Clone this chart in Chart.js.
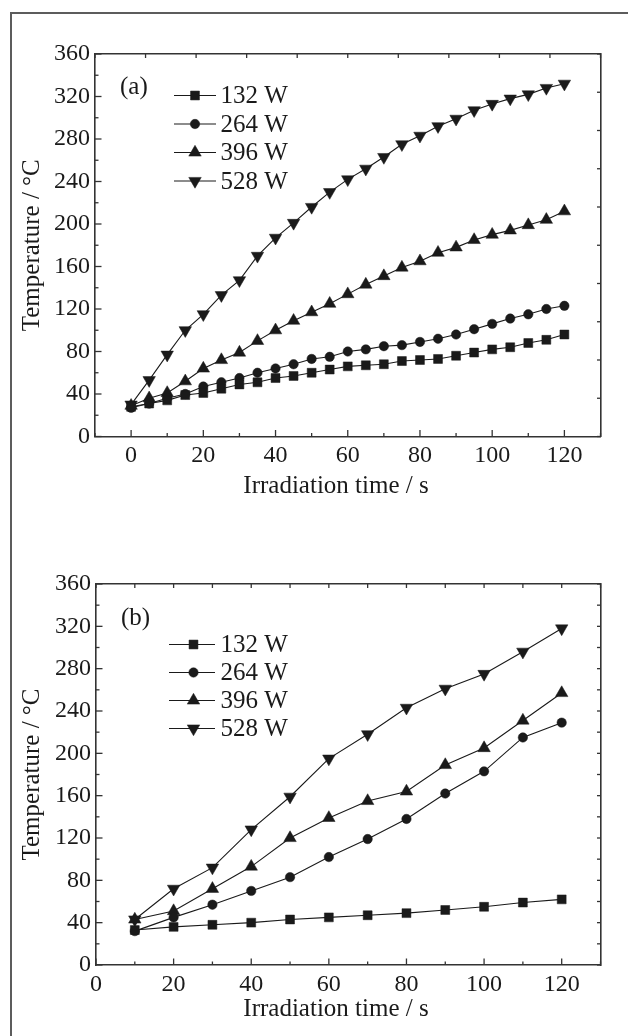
<!DOCTYPE html>
<html><head><meta charset="utf-8">
<script src="https://cdn.jsdelivr.net/npm/chart.js@4.4.1/dist/chart.umd.min.js"></script>
<style>
html,body{margin:0;padding:0;background:#fff;}
body{width:628px;height:1036px;position:relative;overflow:hidden;}
#frame{position:absolute;left:10px;top:12px;width:700px;height:1100px;border-left:2px solid #5c5c5c;border-top:2px solid #5c5c5c;}
.wrap{position:absolute;left:0;width:628px;height:518px;}
canvas{display:block;}
</style></head><body>
<div id="frame"></div>
<div class="wrap" style="top:0"><canvas id="ca" width="628" height="518"></canvas></div>
<div class="wrap" style="top:518px"><canvas id="cb" width="628" height="518"></canvas></div>
<script>
// ---------- data ----------
const seriesLabels = ['132 W', '264 W', '396 W', '528 W'];

// panel (a)
const timeA = [0,5,10,15,20,25,30,35,40,45,50,55,60,65,70,75,80,85,90,95,100,105,110,115,120];
const a132 = [28,31,34,39,41,45,49,51,55,57,60,63,66,67,68,71,72,73,76,79,82,84,88,91,96];
const a264 = [27,31,36,40,47,51,55,60,64,68,73,75,80,82,85,86,89,92,96,101,106,111,115,120,123];
const a396 = [29,36,41,52,64,72,79,90,100,109,117,125,134,143,151,159,165,173,178,185,190,194,199,204,212];
const a528 = [30,53,77,100,115,133,147,170,187,201,216,230,242,252,263,275,283,292,299,307,313,318,322,328,332];

// panel (b)
const timeB = [10,20,30,40,50,60,70,80,90,100,110,120];
const b132 = [33,36,38,40,43,45,47,49,52,55,59,62];
const b264 = [32,45,57,70,83,102,119,138,162,183,215,229];
const b396 = [43,51,72,93,120,139,155,164,189,205,231,257];
const b528 = [43,72,92,128,159,195,218,243,261,275,296,318];

// tick labels
const yTickLabels = [0,40,80,120,160,200,240,280,320,360];
const xTickLabels = [0,20,40,60,80,100,120];

const FONT = "'Liberation Serif','Times New Roman',serif";
const INK = '#1a1a1a';
const AXIS = '#333333';

const markerStyles = [
  {pointStyle:'rect', radius:6.3, rotation:0},
  {pointStyle:'circle', radius:4.7, rotation:0},
  {pointStyle:'triangle', radius:7.2, rotation:0},
  {pointStyle:'triangle', radius:7.2, rotation:180}
];

function pts(xs, ys){ return xs.map((x,i)=>({x:x, y:ys[i]})); }

function makeDatasets(xs, list){
  return list.map((ys,i)=>({
    label: seriesLabels[i],
    data: pts(xs, ys),
    borderColor: INK,
    backgroundColor: INK,
    borderWidth: 1.1,
    pointStyle: markerStyles[i].pointStyle,
    pointRotation: markerStyles[i].rotation,
    pointRadius: markerStyles[i].radius,
    pointHoverRadius: markerStyles[i].radius,
    pointBackgroundColor: INK,
    pointBorderColor: INK,
    pointBorderWidth: 0.5,
    tension: 0,
    fill: false,
    xAxisID: 'x',
    yAxisID: 'y'
  }));
}

function drawMarker(ctx, st, x, y){
  ctx.fillStyle = INK; ctx.strokeStyle = INK; ctx.lineWidth = 0.5;
  if (Chart.helpers && Chart.helpers.drawPoint) {
    Chart.helpers.drawPoint(ctx, {pointStyle: st.pointStyle, radius: st.radius, rotation: st.rotation, borderWidth: 0.5}, x, y);
    return;
  }
  const r = st.radius;
  ctx.beginPath();
  if (st.pointStyle === 'rect') { const s = r*Math.SQRT1_2; ctx.rect(x-s, y-s, 2*s, 2*s); }
  else if (st.pointStyle === 'circle') { ctx.arc(x, y, r, 0, Math.PI*2); }
  else { const d = st.rotation ? -1 : 1; ctx.moveTo(x, y - d*r); ctx.lineTo(x + 0.866*r, y + d*r/2); ctx.lineTo(x - 0.866*r, y + d*r/2); ctx.closePath(); }
  ctx.fill(); ctx.stroke();
}

function buildChart(id, cfg){
  const tickPlugin = {
    id: 'innerTicks',
    afterDraw(chart){
      const ctx = chart.ctx, a = chart.chartArea;
      ctx.save();
      ctx.strokeStyle = AXIS; ctx.lineWidth = 1.3;
      const specs = [
        {s: chart.scales.x, side: 'bottom', major: v => v % 20 === 0, ml: 6.5, nl: 3.5},
        {s: chart.scales.y, side: 'left', major: v => v % 40 === 0, ml: 6.5, nl: 3.5},
        {s: chart.scales.xTop, side: 'top', major: () => true, ml: 4, nl: 4},
        {s: chart.scales.yRight, side: 'right', major: () => true, ml: 3.5, nl: 3}
      ];
      for (const sp of specs){
        for (const t of sp.s.ticks){
          const p = sp.s.getPixelForValue(t.value);
          const len = sp.major(t.value) ? sp.ml : sp.nl;
          ctx.beginPath();
          if (sp.side === 'bottom'){ ctx.moveTo(p, a.bottom); ctx.lineTo(p, a.bottom - len); }
          else if (sp.side === 'top'){ ctx.moveTo(p, a.top); ctx.lineTo(p, a.top + len); }
          else if (sp.side === 'left'){ ctx.moveTo(a.left, p); ctx.lineTo(a.left + len, p); }
          else { ctx.moveTo(a.right, p); ctx.lineTo(a.right - len, p); }
          ctx.stroke();
        }
      }
      ctx.fillStyle = INK;
      ctx.textBaseline = 'middle';
      // x-axis title
      ctx.textAlign = 'center';
      ctx.font = '25px ' + FONT;
      ctx.fillText('Irradiation time / s', a.left + cfg.xTitle[0], a.bottom + cfg.xTitle[1]);
      // panel label
      ctx.textAlign = 'left';
      ctx.font = '25px ' + FONT;
      ctx.fillText(cfg.panelLabel, a.left + cfg.panelPos[0], a.top + cfg.panelPos[1]);
      // legend
      const L = cfg.legend;
      chart.data.datasets.forEach((ds, i) => {
        const y = a.top + L.y0 + i * L.dy;
        ctx.strokeStyle = INK; ctx.lineWidth = 1.1;
        ctx.beginPath(); ctx.moveTo(a.left + L.x1, y); ctx.lineTo(a.left + L.x2, y); ctx.stroke();
        drawMarker(ctx, markerStyles[i], a.left + L.xm, y);
        ctx.fillStyle = INK;
        ctx.font = '25px ' + FONT;
        ctx.textBaseline = 'middle'; ctx.textAlign = 'left';
        ctx.fillText(ds.label, a.left + L.xt, y + 1);
      });
      ctx.restore();
    }
  };

  return new Chart(document.getElementById(id), {
    type: 'line',
    data: { datasets: makeDatasets(cfg.xs, cfg.series) },
    plugins: [tickPlugin],
    options: {
      responsive: false,
      animation: false,
      devicePixelRatio: 1,
      layout: { padding: cfg.pad },
      plugins: { legend: {display:false}, tooltip: {enabled:false} },
      scales: {
        x: {
          type: 'linear', position: 'bottom', min: cfg.xMin, max: 130,
          afterFit(s){ s.height = cfg.xH; },
          ticks: { stepSize: 10, autoSkip: false, maxRotation: 0, padding: cfg.xTickPad, color: INK,
                   font: {family: FONT, size: 24},
                   callback: v => xTickLabels.includes(v) ? String(v) : '' },
          grid: { drawOnChartArea: false, drawTicks: false },
          border: { display: true, color: AXIS, width: 1.6 },
          title: { display: false }
        },
        y: {
          type: 'linear', position: 'left', min: 0, max: 360,
          afterFit(s){ s.width = cfg.yW; },
          ticks: { stepSize: 20, autoSkip: false, padding: 5, color: INK,
                   font: {family: FONT, size: 24},
                   callback: v => yTickLabels.includes(v) ? String(v) : '' },
          grid: { drawOnChartArea: false, drawTicks: false },
          border: { display: true, color: AXIS, width: 1.6 },
          title: { display: true, text: 'Temperature / \u00B0C', color: INK,
                   font: {family: FONT, size: 25}, padding: {top: 17, bottom: 0} }
        },
        xTop: {
          type: 'linear', position: 'top', min: cfg.topAxis.min, max: cfg.topAxis.max,
          afterFit(s){ s.height = 0; },
          ticks: { display: false, stepSize: cfg.topAxis.step },
          grid: { drawOnChartArea: false, drawTicks: false },
          border: { display: true, color: AXIS, width: 1.6 }
        },
        yRight: {
          type: 'linear', position: 'right', min: cfg.rightAxis.min, max: cfg.rightAxis.max,
          afterFit(s){ s.width = 0; },
          ticks: { display: false, stepSize: cfg.rightAxis.step },
          grid: { drawOnChartArea: false, drawTicks: false },
          border: { display: true, color: AXIS, width: 1.6 }
        }
      }
    }
  });
}

buildChart('ca', {
  xs: timeA, series: [a132, a264, a396, a528], xMin: -10,
  topAxis: {min: 0, max: 10, step: 1}, rightAxis: {min: 0, max: 10, step: 1},
  pad: {top: 54, left: 0, right: 27.5, bottom: 17.5},
  xH: 64, yW: 95, xTickPad: 5,
  xTitle: [241, 50],
  panelLabel: '(a)', panelPos: [25, 33.5],
  legend: {y0: 41.5, dy: 28.5, x1: 79, x2: 121, xm: 100, xt: 125.5}
});

buildChart('cb', {
  xs: timeB, series: [b132, b264, b396, b528], xMin: 0,
  topAxis: {min: 0, max: 130, step: 10}, rightAxis: {min: 0, max: 360, step: 20},
  pad: {top: 66, left: 0, right: 27.5, bottom: 7},
  xH: 64, yW: 96, xTickPad: 5,
  xTitle: [240, 44],
  panelLabel: '(b)', panelPos: [25, 34],
  legend: {y0: 60.5, dy: 28, x1: 73, x2: 119, xm: 97.5, xt: 124.5}
});
</script>
</body></html>
